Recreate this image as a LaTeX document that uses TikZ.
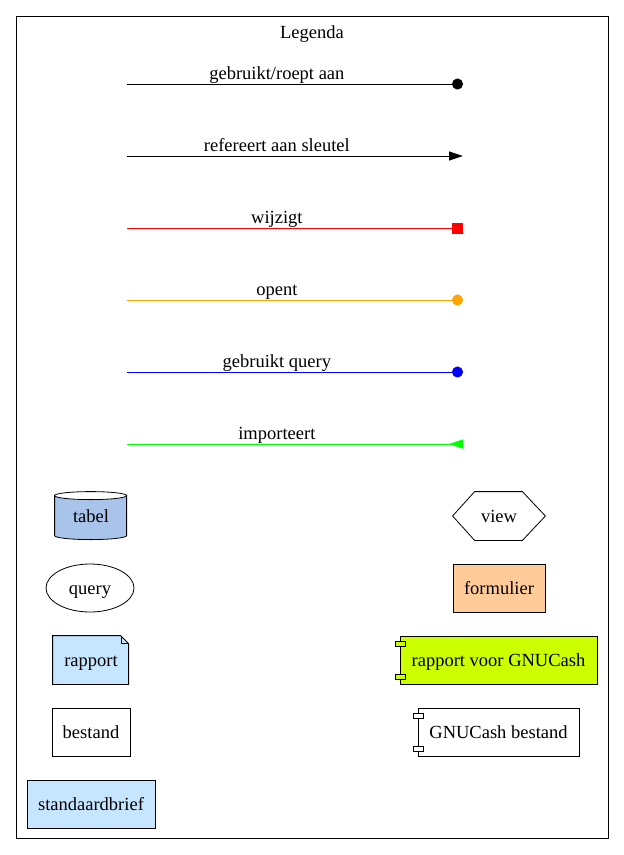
\documentclass[tikz,border=0pt]{standalone}
\usepackage{fontspec}
\setmainfont{Liberation Serif}
\usepackage{xcolor}
\usetikzlibrary{arrows.meta}
\usetikzlibrary{shapes.geometric}
\definecolor{tabelblauw}{HTML}{A9C4EB}
\definecolor{lichtblauw}{HTML}{C6E6FF}
\definecolor{perzik}{HTML}{FFCC99}
\definecolor{geelgroen}{HTML}{CCFF00}
\definecolor{oranje}{HTML}{FFA500}
\definecolor{groen}{HTML}{00FF00}

\begin{document}
\begin{tikzpicture}[x=1pt,y=-1pt,font=\fontsize{18.5}{22}\selectfont,
      every node/.style={text height=16pt, text depth=4pt}]
      \useasboundingbox (0,0) rectangle (624,855);
      \draw (16,16) rectangle (608,838);
      \node (titel) at (312,32) {Legenda};
      \tikzstyle {lijn} = [line width=0.8pt];
      \tikzstyle {lbl} = [pos=0.446, above, inner sep=0.5pt];
      % pijlen
      \coordinate (s1) at (127,84);  \coordinate (e1) at (463,84);
      \coordinate (s2) at (127,156); \coordinate (e2) at (463,156);
      \coordinate (s3) at (127,228); \coordinate (e3) at (463,228);
      \coordinate (s4) at (127,300); \coordinate (e4) at (463,300);
      \coordinate (s5) at (127,372); \coordinate (e5) at (463,372);
      \coordinate (s6) at (127,444); \coordinate (e6) at (463,444);
      \draw [lijn, -{Circle[length=11pt]}] (s1) -- (e1) node [lbl] {gebruikt/roept aan};
      \draw [lijn, -{Triangle[length=14pt,width=9pt]}] (s2) -- (e2) node [lbl] {refereert aan sleutel};
      \draw [lijn, red, -{Square[length=11pt]}] (s3) -- (e3) node [lbl, black] {wijzigt};
      \draw [lijn, oranje, -{Circle[length=11pt]}] (s4) -- (e4) node [lbl, black] {opent};
      \draw [lijn, blue, -{Circle[length=11pt]}] (s5) -- (e5) node [lbl, black] {gebruikt query};
      \draw [lijn, groen, -{Triangle[reversed,length=14pt,width=9pt]}] (s6) -- (e6) node [lbl, black] {importeert};
      % vormen
      \tikzstyle {vak} = [shape=rectangle, draw=black, line width=0.8pt, minimum height=48pt, inner sep=0pt];
      \node (tabel) [vak, draw=none, minimum width=72pt] at (91,516) {};
      \filldraw [fill=tabelblauw, line width=0.8pt] (tabel.north west) ++(0,4)
        -- ++(0,40) arc [start angle=180, end angle=360, x radius=36, y radius=-4]
        -- ++(0,-40) arc [start angle=0, end angle=-180, x radius=36, y radius=-4] -- cycle;
      \draw [line width=0.8pt] (tabel.north west) ++(0,4) arc [start angle=180, end angle=0, x radius=36, y radius=-4];
      \node at (tabel) {tabel};
      \node (view) [vak, draw=none, minimum width=92pt] at (499,516) {view};
      \draw [line width=0.8pt] (view.west) -- ([xshift=22pt]view.north west) -- ([xshift=-23pt]view.north east)
        -- (view.east) -- ([xshift=-23pt]view.south east) -- ([xshift=22pt]view.south west) -- cycle;
      \node (query) [ellipse, draw, line width=0.8pt, minimum width=88pt, minimum height=48pt, inner sep=0pt] at (90,588) {query};
      \node (formulier) [vak, fill=perzik, minimum width=92pt] at (499,588) {formulier};
      \node (rapport) [vak, draw=none, minimum width=76pt] at (91,660) {rapport};
      \filldraw [fill=lichtblauw, line width=0.8pt] (rapport.north west) -- ++(68,0) -- ++(8,8) |- (rapport.south west) -- cycle;
      \draw [line width=0.8pt] (rapport.north east) ++(-8,0) -- ++(0,8) -- ++(8,0);
      \node at (rapport) {rapport};
      \node (rgnc) [vak, fill=geelgroen, minimum width=197pt] at (498.5,660) {rapport voor GNUCash};
      \filldraw [fill=geelgroen, line width=0.8pt] (395,641) rectangle (405,646);
      \filldraw [fill=geelgroen, line width=0.8pt] (395,674) rectangle (405,679);
      \node (bestand) [vak, minimum width=78pt] at (91,732) {bestand};
      \node (gncb) [vak, minimum width=161pt] at (498.5,732) {GNUCash bestand};
      \filldraw [fill=white, line width=0.8pt] (413,713) rectangle (423,718);
      \filldraw [fill=white, line width=0.8pt] (413,746) rectangle (423,751);
      \node (brief) [vak, fill=lichtblauw, minimum width=128pt] at (91,804) {standaardbrief};
    \end{tikzpicture}
\end{document}
